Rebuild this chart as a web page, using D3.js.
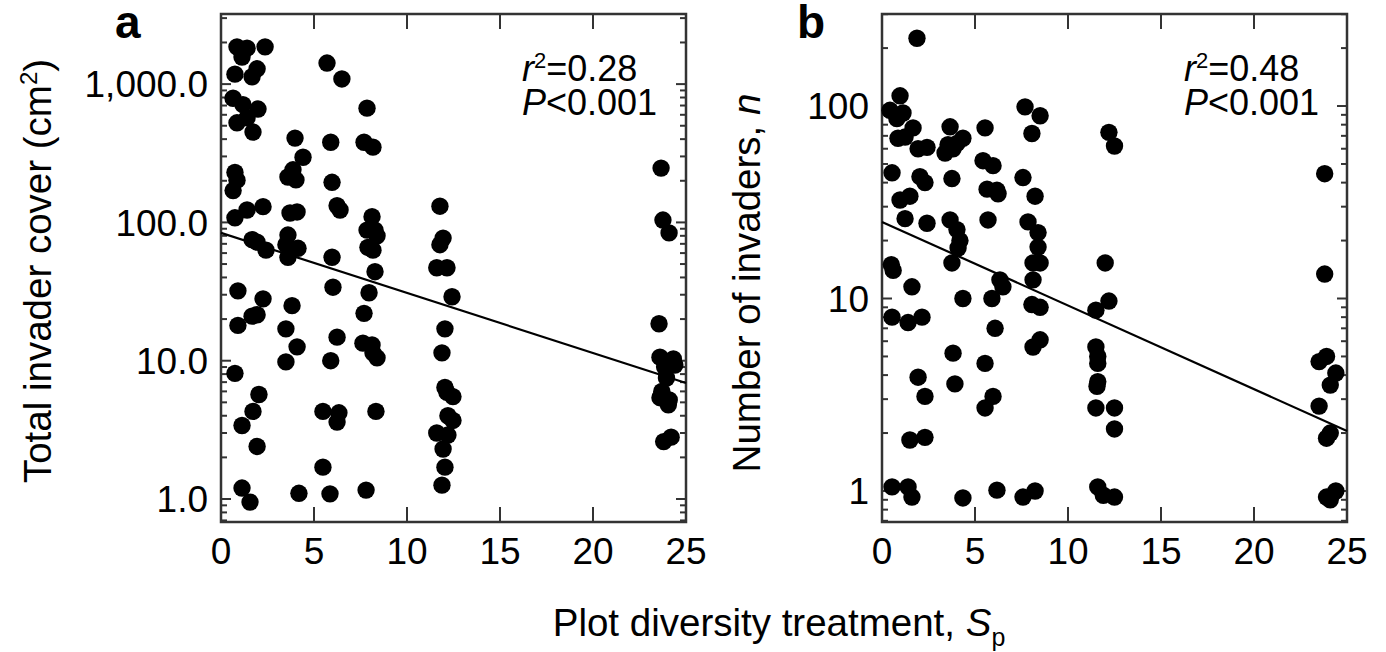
<!DOCTYPE html>
<html>
<head>
<meta charset="utf-8">
<script src="https://cdn.jsdelivr.net/npm/d3@7"></script>
<style>
  body { margin: 0; background: #fff; }
  text { font-family: "Liberation Sans", Arial, Helvetica, sans-serif; fill: #000; }
</style>
</head>
<body>
<script>
// ---- data ----
var xTicks = [0, 5, 10, 15, 20, 25];

var coverTicks = [1, 10, 100, 1000];
var coverTickLabels = ["1.0", "10.0", "100.0", "1,000.0"];
var countTicks = [1, 10, 100];
var countTickLabels = ["1", "10", "100"];

// panel a: plot diversity vs total invader cover (cm2)
var coverPts = [
  [0.86,1860],[1.4,1820],[1.13,1570],[2.37,1860],[0.75,1180],[1.67,1130],[1.94,1290],
  [0.65,790],[1.18,710],[1.99,660],[0.86,525],[1.4,570],[1.72,450],
  [0.75,230],[0.86,202],[0.65,170],[0.75,108],[1.4,123],[2.26,130],
  [1.67,75],[1.94,72],[2.42,63],[0.91,32],[2.26,28],[1.67,21],[1.94,21.5],[0.91,18],
  [0.75,8.1],[2.04,5.7],[1.72,4.3],[1.13,3.4],[1.94,2.4],[1.13,1.2],[1.56,0.95],
  [3.98,407],[4.41,296],[3.6,213],[4.03,203],[3.87,240],[3.71,117],[4.09,119],
  [3.6,81],[3.49,69],[4.14,65],[3.6,56],[3.82,25],[3.49,17],[4.09,12.6],[3.49,9.8],[4.19,1.1],
  [5.7,1420],[6.5,1090],[5.9,380],[5.97,195],[6.24,132],[6.4,123],[5.97,56],[6.02,34],
  [6.24,14.8],[5.9,10],[5.48,4.3],[6.34,4.2],[6.24,3.6],[5.48,1.7],[5.86,1.09],
  [7.85,670],[7.69,380],[8.17,350],[8.12,110],[8.28,88],[7.85,88],[8.39,80],[7.9,66],[8.17,63],
  [8.28,44],[7.96,31],[7.69,22],[7.63,13.4],[8.12,13],[8.17,11.4],[8.39,10.5],[8.33,4.3],[7.8,1.16],
  [11.77,131],[11.94,77],[11.77,69],[11.6,47],[12.15,47],[12.42,29],[12.04,17],[11.88,11.4],
  [12.04,6.4],[12.15,5.9],[12.47,5.5],[12.2,4.0],[12.47,3.7],[11.6,3.0],[12.2,2.9],[11.94,2.3],
  [12.04,1.7],[11.88,1.26],
  [23.66,247],[23.76,104],[24.09,84],[23.55,18.5],[23.6,10.6],[24.32,10.3],[24.4,9.3],[23.85,9.0],
  [23.95,7.5],[23.7,6.0],[23.6,5.4],[24.1,5.2],[24.05,4.8],[23.8,2.6],[24.2,2.8]
];

// panel b: plot diversity vs number of invaders
var countPts = [
  [1.88,225],[0.97,113],[0.43,95],[1.13,92],[0.8,86],[1.67,77],[0.86,68],[1.24,69],[1.94,60],
  [2.42,61],[0.54,45],[2.04,43],[2.31,40],[0.97,32.5],[1.5,34],[1.24,26],[2.42,24.6],[0.5,15],
  [0.6,14],[1.61,11.5],[0.54,8.0],[1.4,7.5],[2.15,8],[1.94,3.9],[2.31,3.1],[1.5,1.84],[2.31,1.9],
  [0.54,1.05],[1.4,1.05],[1.61,0.93],
  [3.66,78],[3.39,57],[3.55,63],[4.03,64],[4.35,68],[3.82,60],[3.76,42],[3.66,25.6],[4.03,22.8],
  [4.19,20],[4.09,18.3],[3.76,15.3],[4.35,10],[3.82,5.2],[3.92,3.6],[4.35,0.92],
  [5.54,77],[5.43,52],[5.97,49],[5.65,37],[6.18,36.5],[6.24,35],[5.7,25.6],[6.34,12.5],[6.5,11.5],
  [5.91,10],[6.08,7.0],[5.54,4.6],[5.54,2.7],[5.97,3.1],[6.18,1.01],
  [7.69,99],[8.5,89],[8.06,72],[7.58,42.5],[8.23,34],[7.85,25],[8.39,22],[8.39,18.5],[8.12,15.3],
  [8.5,15.3],[8.12,12.5],[8.06,9.3],[8.5,9.0],[8.12,5.6],[8.5,6.1],[7.58,0.93],[8.23,1.0],
  [12.2,73],[12.5,62],[12.0,15.3],[12.2,9.7],[11.5,8.7],[11.5,5.6],[11.6,5.0],[11.6,4.6],[11.6,3.7],
  [11.56,3.5],[11.5,2.7],[12.5,2.7],[12.5,2.1],[11.6,1.05],[11.9,0.95],[12.5,0.93],
  [23.8,44.5],[23.8,13.4],[23.5,4.7],[23.9,5.0],[24.4,4.1],[24.1,3.55],[23.5,2.76],[23.9,1.88],
  [24.1,2.0],[23.9,0.93],[24.4,1.0],[24.1,0.9]
];

// fitted lines (end points at x = 0 and x = 25)
var coverFit = [[0, 84], [25, 6.9]];
var countFit = [[0, 25], [25, 2.05]];

var coverStats = ["0.28", "<0.001"];
var countStats = ["0.48", "<0.001"];

// ---- layout ----
var width = 1386,
    height = 652,
    plotTop = 14,
    plotBottom = 522;

var svg = d3.select("body").append("svg")
  .attr("width", width)
  .attr("height", height);

svg.append("rect").attr("width", width).attr("height", height).attr("fill", "#fff");

drawPanel({
  left: 221, right: 686, yDomain: [0.682, 3213],
  pts: coverPts, fit: coverFit, ticks: coverTicks, tickLabels: coverTickLabels,
  stats: coverStats, letter: "a", letterX: 115, statX: 522
});

drawPanel({
  left: 882, right: 1347, yDomain: [0.69, 300.7],
  pts: countPts, fit: countFit, ticks: countTicks, tickLabels: countTickLabels,
  stats: countStats, letter: "b", letterX: 797, statX: 1184
});

function drawPanel(p){
  var x = d3.scaleLinear().domain([0, 25]).range([p.left, p.right]);
  var y = d3.scaleLog().domain(p.yDomain).range([plotBottom, plotTop]);
  var g = svg.append("g");

  // minor log ticks inside the domain
  var minors = [];
  for (var e = -1; e <= 4; e++) {
    for (var k = 1; k <= 9; k++) {
      var v = +(k * Math.pow(10, e)).toPrecision(3);
      if (v >= p.yDomain[0] && v <= p.yDomain[1] && p.ticks.indexOf(v) < 0) minors.push(v);
    }
  }

  var tk = g.append("g").attr("stroke", "#333").attr("stroke-width", 2);
  [[p.left, 1], [p.right, -1]].forEach(function(s){
    tk.selectAll(null).data(minors).enter().append("line")
      .attr("x1", s[0]).attr("x2", s[0] + s[1] * 6)
      .attr("y1", function(d){ return y(d); }).attr("y2", function(d){ return y(d); });
    tk.selectAll(null).data(p.ticks).enter().append("line")
      .attr("x1", s[0]).attr("x2", s[0] + s[1] * 10)
      .attr("y1", function(d){ return y(d); }).attr("y2", function(d){ return y(d); });
  });
  var inner = xTicks.slice(1, -1);
  [[plotBottom, -1], [plotTop, 1]].forEach(function(s){
    tk.selectAll(null).data(inner).enter().append("line")
      .attr("x1", function(d){ return x(d); }).attr("x2", function(d){ return x(d); })
      .attr("y1", s[0]).attr("y2", s[0] + s[1] * 15);
  });

  // frame
  g.append("rect")
    .attr("x", p.left).attr("y", plotTop)
    .attr("width", p.right - p.left).attr("height", plotBottom - plotTop)
    .attr("fill", "none").attr("stroke", "#333").attr("stroke-width", 2.5);

  // tick labels
  g.selectAll(".ylab").data(p.ticks).enter().append("text")
    .attr("x", p.left - 13).attr("y", function(d){ return y(d); })
    .attr("dy", "0.36em").attr("text-anchor", "end").attr("font-size", 37)
    .text(function(d, i){ return p.tickLabels[i]; });

  g.selectAll(".xlab").data(xTicks).enter().append("text")
    .attr("x", function(d){ return x(d); }).attr("y", 564)
    .attr("text-anchor", "middle").attr("font-size", 37)
    .text(function(d){ return d; });

  // fit line
  g.append("path")
    .datum(p.fit)
    .attr("d", d3.line().x(function(d){ return x(d[0]); }).y(function(d){ return y(d[1]); }))
    .attr("fill", "none").attr("stroke", "#000").attr("stroke-width", 2.2);

  // points
  g.selectAll("circle").data(p.pts).enter().append("circle")
    .attr("cx", function(d){ return x(d[0]); })
    .attr("cy", function(d){ return y(d[1]); })
    .attr("r", 8.7).attr("fill", "#000");

  // stats
  var t1 = g.append("text").attr("x", p.statX).attr("y", 81).attr("font-size", 36);
  t1.append("tspan").attr("font-style", "italic").text("r");
  t1.append("tspan").attr("font-size", 22).attr("dy", -13).text("2");
  t1.append("tspan").attr("dy", 13).text("=" + p.stats[0]);
  var t2 = g.append("text").attr("x", p.statX).attr("y", 115).attr("font-size", 36);
  t2.append("tspan").attr("font-style", "italic").text("P");
  t2.append("tspan").text(p.stats[1]);

  // panel letter
  g.append("text").attr("x", p.letterX).attr("y", 38)
    .attr("font-size", 46).attr("font-weight", "bold").text(p.letter);
}

// axis titles
var ya = svg.append("text").attr("transform", "translate(51,271) rotate(-90)")
  .attr("text-anchor", "middle").attr("font-size", 38.5);
ya.append("tspan").text("Total invader cover (cm");
ya.append("tspan").attr("font-size", 24).attr("dy", -14).text("2");
ya.append("tspan").attr("dy", 14).text(")");

var yb = svg.append("text").attr("transform", "translate(760,283) rotate(-90)")
  .attr("text-anchor", "middle").attr("font-size", 38.5);
yb.append("tspan").text("Number of invaders, ");
yb.append("tspan").attr("font-style", "italic").text("n");

var xl = svg.append("text").attr("x", 779).attr("y", 636)
  .attr("text-anchor", "middle").attr("font-size", 38.5);
xl.append("tspan").text("Plot diversity treatment, ");
xl.append("tspan").attr("font-style", "italic").text("S");
xl.append("tspan").attr("font-size", 25).attr("dy", 10).text("p");
</script>
</body>
</html>
